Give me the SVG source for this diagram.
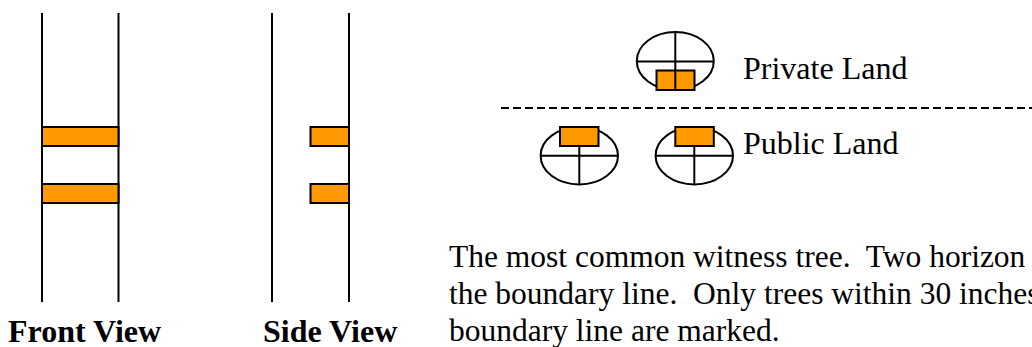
<svg xmlns="http://www.w3.org/2000/svg" width="1032" height="347" viewBox="0 0 1032 347">
<style>
.ln{stroke:#000;stroke-width:2;fill:none}
.blaze{fill:#FF9900;stroke:#000;stroke-width:2}
.ell{fill:#fff;stroke:#000;stroke-width:2}
.lbl{font-family:"Liberation Serif","Times New Roman",serif;font-size:32px;fill:#000}
.cap{font-size:31.5px}
.bold{font-weight:bold}
</style>
<rect width="1032" height="347" fill="#fff"/>
<g id="front-view">
<line class="ln" x1="42" y1="13" x2="42" y2="302"/>
<line class="ln" x1="118.5" y1="13" x2="118.5" y2="302"/>
<rect class="blaze" x="42" y="127" width="76.5" height="19"/>
<rect class="blaze" x="42" y="184" width="76.5" height="19"/>
<text class="lbl bold" x="8" y="342">Front View</text>
</g>
<g id="side-view">
<line class="ln" x1="272" y1="13" x2="272" y2="302"/>
<line class="ln" x1="349" y1="13" x2="349" y2="302"/>
<rect class="blaze" x="310.5" y="127" width="38.5" height="19"/>
<rect class="blaze" x="310.5" y="184" width="38.5" height="19"/>
<text class="lbl bold" x="263" y="342">Side View</text>
</g>
<g id="connectors">
<line x1="501" y1="108" x2="1032" y2="108" stroke="#000" stroke-width="2" stroke-dasharray="8,4"/>
</g>
<g id="private-tree">
<ellipse class="ell" cx="675.3" cy="61" rx="38.5" ry="29"/>
<line class="ln" x1="636.8" y1="61.5" x2="713.8" y2="61.5"/>
<line class="ln" x1="675.3" y1="32" x2="675.3" y2="90"/>
<rect class="blaze" x="656.5" y="70.5" width="38" height="19.5"/>
<line class="ln" x1="675.3" y1="70.5" x2="675.3" y2="90"/>
</g>
<g id="public-tree-1">
<ellipse class="ell" cx="579.3" cy="155.7" rx="38.7" ry="28.7"/>
<line class="ln" x1="540.6" y1="155.7" x2="618" y2="155.7"/>
<line class="ln" x1="579.3" y1="145.7" x2="579.3" y2="184.4"/>
<rect class="blaze" x="560" y="127" width="38.5" height="19"/>
</g>
<g id="public-tree-2">
<ellipse class="ell" cx="694.3" cy="155.7" rx="38.7" ry="28.7"/>
<line class="ln" x1="655.6" y1="155.7" x2="733" y2="155.7"/>
<line class="ln" x1="694.3" y1="145.7" x2="694.3" y2="184.4"/>
<rect class="blaze" x="675.3" y="127" width="38.5" height="19"/>
</g>
<g id="labels">
<text class="lbl" x="743" y="79">Private Land</text>
<text class="lbl" x="743" y="154">Public Land</text>
</g>
<g id="caption">
<text class="lbl cap" x="449" y="267" xml:space="preserve">The most common witness tree.  Two horizon</text>
<text class="lbl cap" x="449" y="304" xml:space="preserve">the boundary line.  Only trees within 30 inches</text>
<text class="lbl cap" x="449" y="341" xml:space="preserve">boundary line are marked.</text>
</g>
</svg>
